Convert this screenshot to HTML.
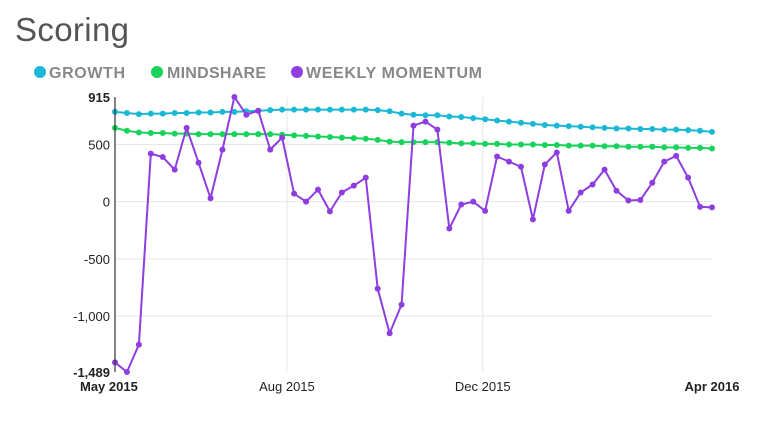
<!DOCTYPE html>
<html><head><meta charset="utf-8"><style>
body{margin:0;background:#fff;width:768px;height:417px;overflow:hidden;font-family:"Liberation Sans",sans-serif}
</style></head><body>
<svg width="768" height="417" xmlns="http://www.w3.org/2000/svg" font-family="Liberation Sans, sans-serif">
<text x="15" y="41" font-size="33" fill="#555" textLength="114">Scoring</text>
<g font-size="16" font-weight="bold" fill="#888">
 <g><circle cx="40" cy="72" r="6" fill="#1bb8d6"/><text x="49" y="78" textLength="76">GROWTH</text></g>
 <g><circle cx="157" cy="72" r="6" fill="#17d35c"/><text x="167" y="78" textLength="99">MINDSHARE</text></g>
 <g><circle cx="297" cy="72" r="6" fill="#8e3ee0"/><text x="306" y="78" textLength="176">WEEKLY MOMENTUM</text></g>
</g>
<g id="grid"></g>
<g id="series"></g>
<g id="axes"></g>
</svg>
<script>
const growth=[785,775,765,770,770,775,775,780,780,785,785,790,795,800,805,805,805,805,805,805,805,805,800,790,770,760,755,755,745,740,730,720,710,700,690,680,670,665,660,655,650,645,640,640,635,635,630,630,625,620,610];
const mindshare=[645,620,605,600,600,595,595,590,590,590,590,590,590,590,585,580,575,570,565,560,555,550,540,525,520,520,520,520,515,510,510,505,505,500,500,500,495,495,490,490,490,485,485,480,480,480,475,475,470,470,465];
const momentum=[-1405,-1489,-1250,420,390,280,645,340,30,455,915,760,795,455,560,70,0,105,-85,80,140,210,-760,-1150,-900,665,700,630,-235,-25,0,-80,395,350,305,-155,325,430,-80,80,150,280,95,10,15,165,350,400,210,-45,-50];
const yTicks=[915,500,0,-500,-1000,-1489];
const yTickLabels=["915","500","0","-500","-1,000","-1,489"];
const xTickIdx=[0,14.4,30.8,50];
const xTickLabels=["May 2015","Aug 2015","Dec 2015","Apr 2016"];
const NS="http://www.w3.org/2000/svg";
const x0=115,x1=712,yMin=-1489,yMax=915,yTop=97,yBot=372;
const n=momentum.length;
const xs=i=>x0+(x1-x0)*i/(n-1);
const ys=v=>yBot-(v-yMin)/(yMax-yMin)*(yBot-yTop);
function mk(tag,attrs,parent){const e=document.createElementNS(NS,tag);for(const k in attrs)e.setAttribute(k,attrs[k]);parent.appendChild(e);return e;}
const grid=document.getElementById('grid'),series=document.getElementById('series'),axes=document.getElementById('axes');
[500,0,-500,-1000].forEach(v=>{
 const l=mk('line',{x1:x0,x2:x1,y1:ys(v),y2:ys(v),stroke:'#e6e6e6','stroke-width':1},grid);
 
 
});
xTickIdx.slice(1,3).forEach(i=>{
 const l=mk('line',{x1:xs(i),x2:xs(i),y1:yTop,y2:yBot,stroke:'#e6e6e6','stroke-width':1},grid);
 
 
});
function drawSeries(data,color,name){
 const g=mk('g',{},series);
 
 
 mk('polyline',{points:data.map((v,i)=>xs(i)+','+ys(v)).join(' '),fill:'none',stroke:color,'stroke-width':2,'stroke-linejoin':'round'},g);
 data.forEach((v,i)=>{
  const c=mk('circle',{cx:xs(i),cy:ys(v),r:3,fill:color},g);
  
  
 });
}
drawSeries(growth,'#1bb8d6','growth');
drawSeries(mindshare,'#17d35c','mindshare');
drawSeries(momentum,'#8e3ee0','weekly-momentum');
const ax=mk('line',{x1:x0,x2:x0,y1:yTop,y2:yBot,stroke:'#333','stroke-width':1.2},axes);


yTicks.forEach((v,k)=>{
 const bold=(k==0||k==yTicks.length-1);
 const t=mk('text',{x:110,y:ys(v)+5,'text-anchor':'end','font-size':13,fill:'#222','font-weight':bold?'bold':'normal'},axes);
 t.textContent=yTickLabels[k];
 
 
});
xTickIdx.forEach((i,k)=>{
 const first=k==0,last=k==xTickIdx.length-1;
 const t=mk('text',{x:first?80:xs(i),y:391,'text-anchor':first?'start':'middle','font-size':13,fill:'#222','font-weight':(first||last)?'bold':'normal'},axes);
 t.textContent=xTickLabels[k];
 
 
});
</script>
</body></html>
